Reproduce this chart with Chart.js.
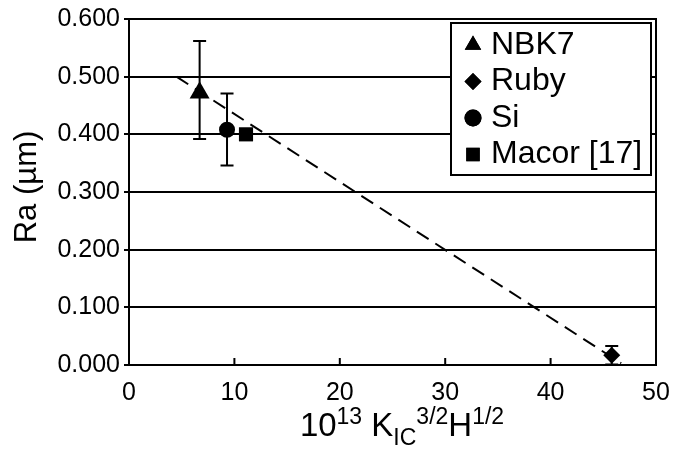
<!DOCTYPE html>
<html>
<head>
<meta charset="utf-8">
<script src="https://cdn.jsdelivr.net/npm/chart.js@4"></script>
<style>
  html, body { margin: 0; padding: 0; background: #fff; }
  #wrap { width: 686px; height: 450px; }
</style>
</head>
<body>
<div id="wrap"><canvas id="myChart"></canvas></div>
<script>
// Materials and their values
var materials = ["NBK7", "Ruby", "Si", "Macor [17]"];
var markers = ["triangle", "rectRot", "circle", "rect"];
var xValues = [6.7, 45.8, 9.3, 11.1];
var raValues = [0.472, 0.017, 0.408, 0.400];
var errLow = [0.080, 0.016, 0.062, 0];
var errHigh = [0.090, 0.016, 0.063, 0];

// Fitted trend line end points
var fitX = [4.5, 46.7];
var fitY = [0.500, 0.003];

// Tick values
var yTicks = [0, 0.1, 0.2, 0.3, 0.4, 0.5, 0.6];
var xTicks = [0, 10, 20, 30, 40, 50];

var FONT = "'Liberation Sans', Arial, sans-serif";
var pointSizes = { triangle: 11.5, rectRot: 8.5, circle: 8, rect: 10 };

var datasets = materials.map(function (name, i) {
  return {
    label: name,
    data: [{ x: xValues[i], y: raValues[i] }],
    pointStyle: markers[i],
    pointRadius: pointSizes[markers[i]],
    backgroundColor: "#000",
    borderColor: "#000",
    borderWidth: 0,
    showLine: false,
    order: 1
  };
});

datasets.push({
  label: "fit",
  type: "line",
  data: fitX.map(function (x, i) { return { x: x, y: fitY[i] }; }),
  borderColor: "#000",
  borderWidth: 2,
  borderDash: [14, 8],
  pointRadius: 0,
  fill: false,
  order: 2
});

// error bars, frame, inside ticks, legend and axis titles
var extras = {
  id: "extras",
  afterDatasetsDraw: function (chart) {
    var ctx = chart.ctx;
    var xs = chart.scales.x, ys = chart.scales.y;
    ctx.save();
    ctx.strokeStyle = "#000";
    ctx.lineWidth = 2;
    for (var i = 0; i < materials.length; i++) {
      if (!errLow[i] && !errHigh[i]) continue;
      var px = xs.getPixelForValue(xValues[i]);
      var top = ys.getPixelForValue(raValues[i] + errHigh[i]);
      var bot = ys.getPixelForValue(Math.max(0, raValues[i] - errLow[i]));
      ctx.beginPath();
      ctx.moveTo(px, top); ctx.lineTo(px, bot);
      ctx.moveTo(px - 6.5, top); ctx.lineTo(px + 6.5, top);
      ctx.moveTo(px - 6.5, bot); ctx.lineTo(px + 6.5, bot);
      ctx.stroke();
    }
    ctx.restore();
  },
  afterDraw: function (chart) {
    var ctx = chart.ctx;
    var a = chart.chartArea;
    var xs = chart.scales.x;
    ctx.save();
    ctx.strokeStyle = "#000";
    ctx.lineWidth = 2;
    ctx.strokeRect(a.left, a.top, a.right - a.left, a.bottom - a.top);

    // x ticks pointing inward
    ctx.beginPath();
    xTicks.forEach(function (t) {
      var px = xs.getPixelForValue(t);
      ctx.moveTo(px, a.bottom);
      ctx.lineTo(px, a.bottom - 7);
    });
    ctx.stroke();

    // legend box
    var lx = 451, ly = 23, lw = 200, lh = 152;
    ctx.fillStyle = "#fff";
    ctx.fillRect(lx, ly, lw, lh);
    ctx.strokeRect(lx, ly, lw, lh);
    ctx.fillStyle = "#000";
    ctx.font = "32px " + FONT;
    ctx.textBaseline = "middle";
    ctx.textAlign = "left";
    var legendSizes = { triangle: 9.5, rectRot: 8.5, circle: 8.5, rect: 9.5 };
    materials.forEach(function (name, i) {
      var cy = 44 + i * 36.5;
      Chart.helpers.drawPoint(ctx, {
        pointStyle: markers[i],
        radius: legendSizes[markers[i]],
        rotation: 0,
        borderWidth: 0
      }, 473, cy + 1);
      ctx.fill();
      ctx.fillText(name, 491, cy + 1);
    });

    // y title
    ctx.save();
    ctx.translate(27, 187);
    ctx.rotate(-Math.PI / 2);
    ctx.textAlign = "center";
    ctx.textBaseline = "middle";
    ctx.font = "31px " + FONT;
    ctx.fillText("Ra (\u00b5m)", 0, 0);
    ctx.restore();

    // x title: 10^13 K_IC^3/2 H^1/2
    var parts = [
      { t: "10", f: 33, dy: 0 },
      { t: "13", f: 23, dy: -12 },
      { t: " K", f: 33, dy: 0 },
      { t: "IC", f: 23, dy: 9 },
      { t: "3/2", f: 23, dy: -12 },
      { t: "H", f: 33, dy: 0 },
      { t: "1/2", f: 23, dy: -12 }
    ];
    ctx.textAlign = "left";
    ctx.textBaseline = "alphabetic";
    var total = 0;
    parts.forEach(function (p) {
      ctx.font = p.f + "px " + FONT;
      p.w = ctx.measureText(p.t).width;
      total += p.w;
    });
    var x = 402 - total / 2, base = 436;
    parts.forEach(function (p) {
      ctx.font = p.f + "px " + FONT;
      ctx.fillText(p.t, x, base + p.dy);
      x += p.w;
    });
    ctx.restore();
  }
};

var config = {
  type: "scatter",
  data: { datasets: datasets },
  options: {
    responsive: true,
    maintainAspectRatio: false,
    animation: false,
    layout: { padding: { top: 19, right: 30, left: 0, bottom: 0 } },
    plugins: {
      legend: { display: false },
      tooltip: { enabled: false }
    },
    scales: {
      x: {
        type: "linear",
        min: 0,
        max: 50,
        afterBuildTicks: function (axis) {
          axis.ticks = xTicks.map(function (v) { return { value: v }; });
        },
        afterFit: function (axis) { axis.height = 85; },
        grid: { display: false },
        border: { display: false },
        ticks: {
          color: "#000",
          font: { family: FONT, size: 25 },
          padding: 5,
          maxRotation: 0
        }
      },
      y: {
        min: 0,
        max: 0.6,
        afterBuildTicks: function (axis) {
          axis.ticks = yTicks.map(function (v) { return { value: v }; });
        },
        afterFit: function (axis) { axis.width = 129; },
        grid: {
          color: "#000",
          lineWidth: 2,
          tickLength: 5,
          drawTicks: true
        },
        border: { display: false },
        ticks: {
          color: "#000",
          font: { family: FONT, size: 25 },
          padding: 4,
          callback: function (v) { return v.toFixed(3); }
        }
      }
    }
  },
  plugins: [extras]
};

var myChart = new Chart(document.getElementById("myChart").getContext("2d"), config);
</script>
</body>
</html>
